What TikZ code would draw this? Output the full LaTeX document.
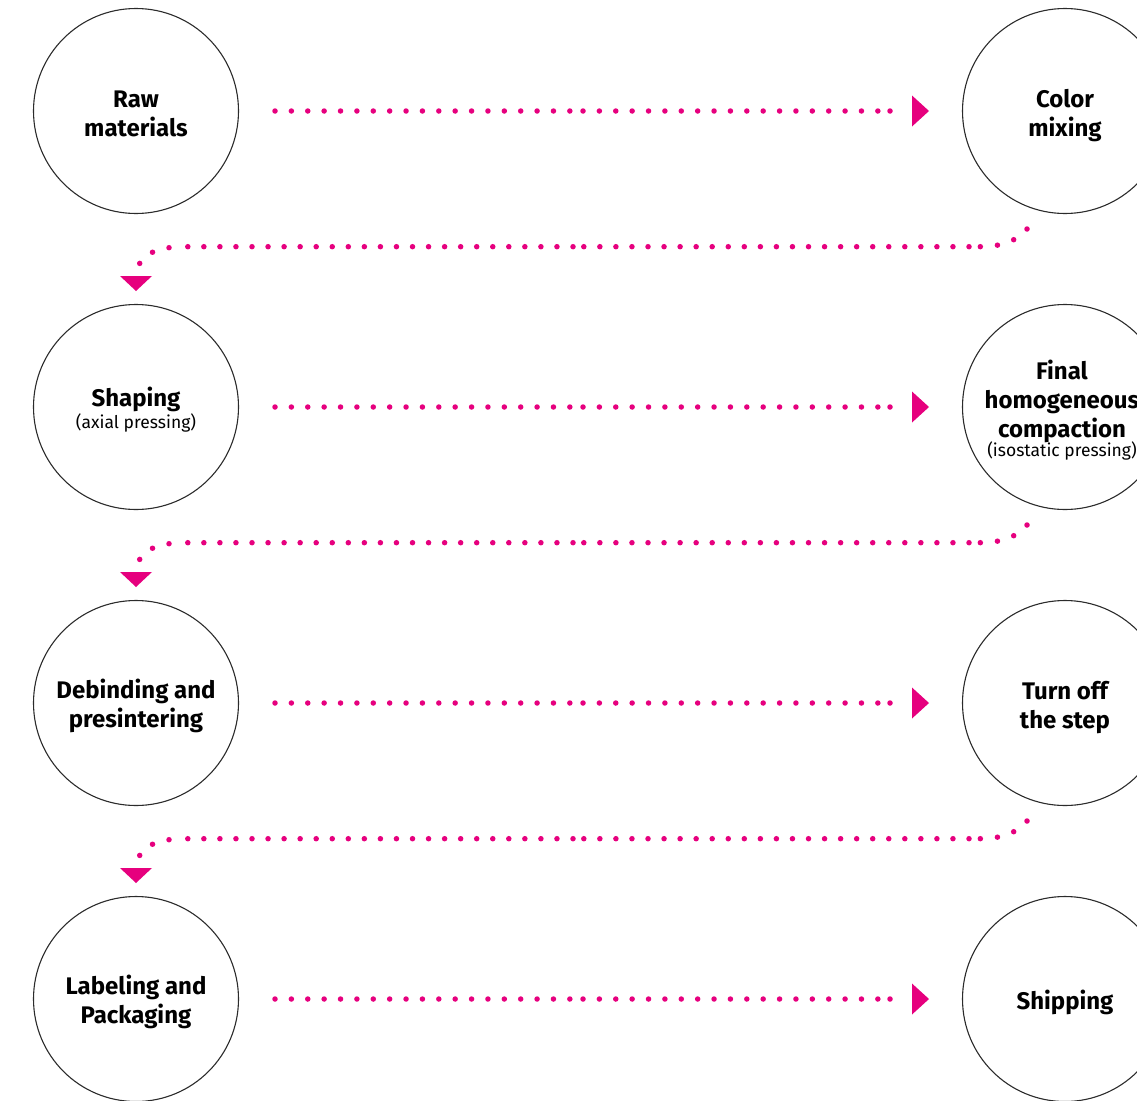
\documentclass[tikz,border=0pt]{standalone}
\usepackage{fontspec}
\setmainfont{Fira Sans}
\usetikzlibrary{calc}
\definecolor{mag}{HTML}{E6007E}
\definecolor{ring}{HTML}{2B2B2B}
\newcommand{\subtxt}{\fontsize{17.5}{19}\selectfont\mdseries}
\tikzset{
  stepcircle/.style={circle, draw=ring, line width=1.1pt, minimum size=205pt, inner sep=0pt},
  steplabel/.style={align=center, inner sep=0pt, font=\fontsize{24}{29}\selectfont\bfseries, text=black},
  dotrow/.style={draw=mag, line width=5.5pt, line cap=round, dash pattern=on 0pt off 16.38pt},
  dotstraight/.style={draw=mag, line width=5.5pt, line cap=round, dash pattern=on 0pt off 16.05pt},
  dotcurve/.style={draw=mag, line width=5.5pt, line cap=round, dash pattern=on 0pt off 17.2pt},
  tip/.style={fill=mag}
}
\begin{document}
\begin{tikzpicture}[x=1pt,y=-1pt]
\useasboundingbox (0,0) rectangle (1137,1100);
% circles
\node[stepcircle] (L1) at (136,111) {};
\node[stepcircle] (R1) at (1065,111) {};
\node[stepcircle] (L2) at (136,407) {};
\node[stepcircle] (R2) at (1065,407) {};
\node[stepcircle] (L3) at (136,703) {};
\node[stepcircle] (R3) at (1065,703) {};
\node[stepcircle] (L4) at (136,999) {};
\node[stepcircle] (R4) at (1065,999) {};
% labels
\node[steplabel] (tL1) at ($(L1)+(0,3)$) {Raw\\materials};
\node[steplabel] (tR1) at ($(R1)+(0,5)$) {Color\\mixing};
\node[steplabel] (tL2) at ($(L2)+(0,3)$) {Shaping\\[-7pt]{\subtxt (axial pressing)}};
\node[steplabel] (tR2) at ($(R2)+(-3,3)$) {Final\\homogeneous\\compaction\\[-10pt]{\subtxt (isostatic pressing)}};
\node[steplabel] (tL3) at ($(L3)+(0,3)$) {Debinding and\\presintering};
\node[steplabel] (tR3) at ($(R3)+(0,5)$) {Turn off\\the step};
\node[steplabel] (tL4) at ($(L4)+(0,3)$) {Labeling and\\Packaging};
\node[steplabel] (tR4) at ($(R4)+(0,3)$) {Shipping};
% horizontal connectors
\foreach \i in {1,...,4}{
  \draw[dotrow] ($(L\i)+(139,0)$) -- ($(L\i)+(435.1,0)$)
                ($(L\i)+(447,0)$) -- ($(L\i)+(742.1,0)$)
                ($(L\i)+(754,0)$) -- ($(L\i)+(754.1,0)$);
  \fill[tip] ($(L\i)+(776,-15.5)$) -- ($(L\i)+(793,0)$) -- ($(L\i)+(776,15.5)$) -- cycle;
}
% turn connectors
\foreach \i/\j in {1/2,2/3,3/4}{
  \draw[dotcurve] ($(R\i)+(-38,118)$) .. controls ($(R\i)+(-49,131)$) and ($(R\i)+(-65,135.7)$) .. ($(R\i)+(-86,135.7)$)
                  ($(L\j)+(33,-159.3)$) .. controls ($(L\j)+(22,-158.5)$) and ($(L\j)+(9,-153)$) .. ($(L\j)+(3.3,-143)$);
  \draw[dotstraight] ($(R\i)+(-96,135.7)$) -- ($(L\j)+(446.9,-160.3)$)
                     ($(L\j)+(437,-160.3)$) -- ($(L\j)+(50.9,-160.3)$);
  \fill[tip] ($(L\j)+(-16,-131)$) -- ($(L\j)+(16,-131)$) -- ($(L\j)+(0,-116)$) -- cycle;
}
\end{tikzpicture}
\end{document}
